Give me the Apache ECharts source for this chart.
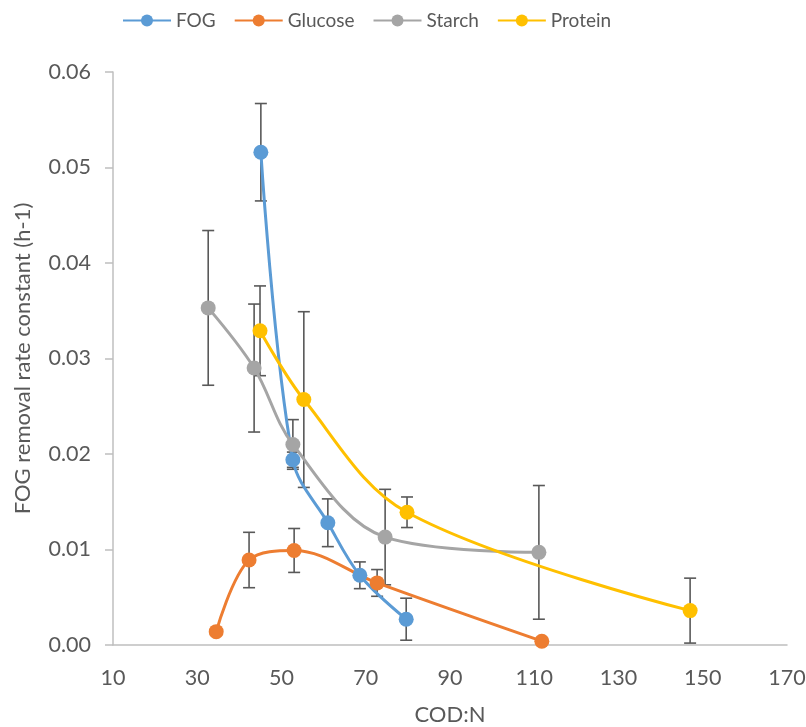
<!DOCTYPE html>
<html>
<head>
<meta charset="utf-8">
<script src="https://cdn.jsdelivr.net/npm/echarts@6/dist/echarts.min.js"></script>
<style>html,body{margin:0;padding:0;background:#fff}#chart{width:806px;height:727px}</style>
</head>
<body>
<div id="chart"></div>
<script>
// ---- data ----
var seriesNames = ['FOG', 'Glucose', 'Starch', 'Protein'];
var fogX = [45.1, 52.7, 61.0, 68.6, 79.6];
var fogY = [0.0516, 0.0194, 0.0128, 0.0073, 0.0027];
var fogErr = [0.0051, 0.0008, 0.0025, 0.0014, 0.0022];

var glucoseX = [34.5, 42.3, 53.0, 72.7, 111.8];
var glucoseY = [0.0014, 0.0089, 0.0099, 0.0065, 0.0004];
var glucoseErr = [0, 0.0029, 0.0023, 0.0014, 0];

var starchX = [32.6, 43.5, 52.7, 74.6, 111.1];
var starchY = [0.0353, 0.0290, 0.0210, 0.0113, 0.0097];
var starchErr = [0.0081, 0.0067, 0.0026, 0.0050, 0.0070];

var proteinX = [44.9, 55.3, 79.8, 147.0];
var proteinY = [0.0329, 0.0257, 0.0139, 0.0036];
var proteinErr = [0.0047, 0.0092, 0.0016, 0.0034];

var xTicks = [10, 30, 50, 70, 90, 110, 130, 150, 170];
var yTicks = [0, 0.01, 0.02, 0.03, 0.04, 0.05, 0.06];

// ---- build ----
var colors = ['#5B9BD5', '#ED7D31', '#A5A5A5', '#FFC000'];
var allX = [fogX, glucoseX, starchX, proteinX];
var allY = [fogY, glucoseY, starchY, proteinY];
var allErr = [fogErr, glucoseErr, starchErr, proteinErr];
var FONT = 'Lato, "Open Sans", sans-serif';

function pairs(xs, ys) { return xs.map(function (x, i) { return [x, ys[i]]; }); }
function errData(xs, ys, es) {
  var out = [];
  xs.forEach(function (x, i) { if (es[i] > 0) out.push([x, ys[i] - es[i], ys[i] + es[i]]); });
  return out;
}
function renderErr(params, api) {
  var x = api.value(0);
  var lo = api.coord([x, api.value(1)]);
  var hi = api.coord([x, api.value(2)]);
  var hw = 6;
  var st = { stroke: '#595959', lineWidth: 1.6 };
  return {
    type: 'group',
    children: [
      { type: 'line', shape: { x1: hi[0], y1: hi[1], x2: lo[0], y2: lo[1] }, style: st },
      { type: 'line', shape: { x1: hi[0] - hw, y1: hi[1], x2: hi[0] + hw, y2: hi[1] }, style: st },
      { type: 'line', shape: { x1: lo[0] - hw, y1: lo[1], x2: lo[0] + hw, y2: lo[1] }, style: st }
    ]
  };
}

var series = [];
seriesNames.forEach(function (n, k) {
  series.push({
    name: n + '_err', type: 'custom', renderItem: renderErr,
    data: errData(allX[k], allY[k], allErr[k]), z: 1, silent: true
  });
});
seriesNames.forEach(function (n, k) {
  series.push({
    name: n, type: 'line', smooth: 0.35,
    data: pairs(allX[k], allY[k]),
    symbol: 'circle', symbolSize: 15,
    lineStyle: { width: 3, color: colors[k] },
    itemStyle: { color: colors[k] },
    z: 3
  });
});

var chart = echarts.init(document.getElementById('chart'));
chart.setOption({
  animation: false,
  color: colors,
  legend: {
    data: seriesNames, top: 6, left: 117,
    itemWidth: 48, itemHeight: 15, itemGap: 18,
    textStyle: { fontFamily: FONT, fontSize: 19, color: '#595959' }
  },
  grid: { left: 113, right: 19, top: 72, bottom: 82, containLabel: false, outerBoundsMode: 'none' },
  xAxis: {
    type: 'value', min: 10, max: 170, interval: 20,
    name: 'COD:N', nameLocation: 'middle', nameGap: 59,
    nameTextStyle: { fontFamily: FONT, fontSize: 22, color: '#595959' },
    axisLine: { lineStyle: { color: '#BFBFBF', width: 1.5 } },
    axisTick: { show: false },
    splitLine: { show: false },
    axisLabel: { fontFamily: FONT, fontSize: 21.5, color: '#595959', margin: 22,
      formatter: function (v) { return xTicks.indexOf(v) >= 0 ? String(v) : ''; } }
  },
  yAxis: {
    type: 'value', min: 0, max: 0.06, interval: 0.01,
    name: 'FOG removal rate constant (h-1)', nameLocation: 'middle', nameGap: 79,
    nameTextStyle: { fontFamily: FONT, fontSize: 22, color: '#595959' },
    axisLine: { show: true, lineStyle: { color: '#BFBFBF', width: 1.5 } },
    axisTick: { show: true, inside: false, length: 8, lineStyle: { color: '#BFBFBF', width: 1.5 } },
    splitLine: { show: false },
    axisLabel: { fontFamily: FONT, fontSize: 21.5, color: '#595959', margin: 22,
      formatter: function (v) { return yTicks.some(function (t) { return Math.abs(t - v) < 1e-9; }) ? v.toFixed(2) : ''; } }
  },
  series: series
});
</script>
</body>
</html>
